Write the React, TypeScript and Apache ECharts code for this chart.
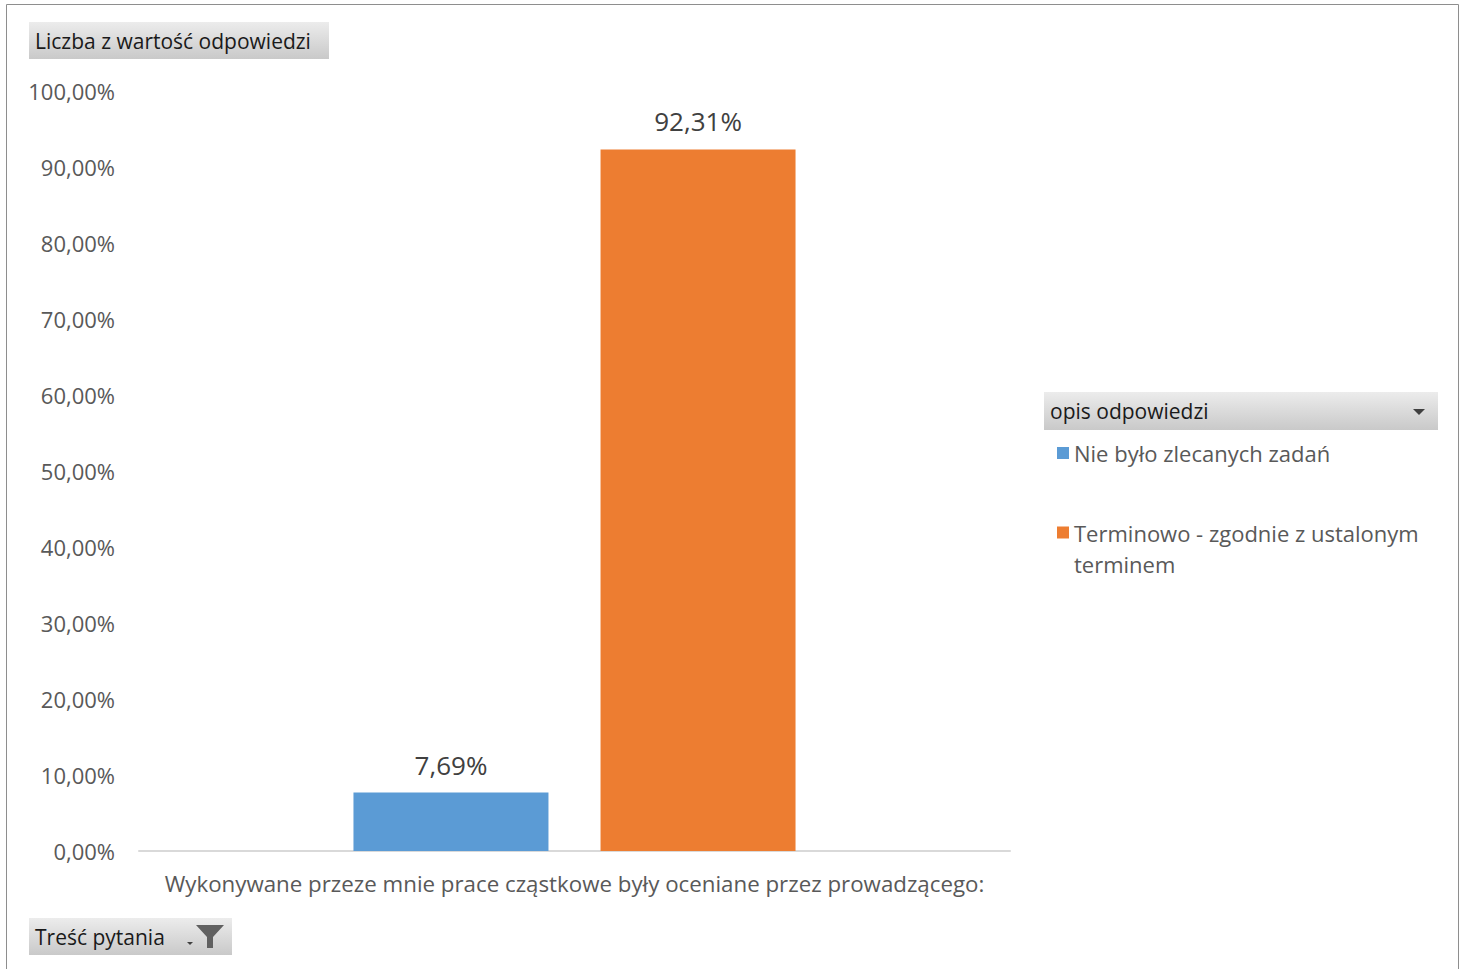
import React, { useEffect, useRef } from "react";
import * as echarts from "echarts";

const categories = ["Wykonywane przeze mnie prace cząstkowe były oceniane przez prowadzącego:"];
const seriesNames = ["Nie było zlecanych zadań", "Terminowo - zgodnie z ustalonym terminem"];
const seriesValues = [[7.69], [92.31]];
const seriesColors = ["#5B9BD5", "#ED7D31"];
const yTicks = { min: 0, max: 100, interval: 10 };

const FONT = "Open Sans";

function fmt(v: number) {
  return v.toFixed(2).replace(".", ",") + "%";
}

function headerBox(x: number, y: number, w: number, h: number, label: string, extra: any[] = []) {
  return {
    type: "group",
    x,
    y,
    children: [
      {
        type: "rect",
        shape: { x: 0, y: 0, width: w, height: h },
        style: {
          fill: new echarts.graphic.LinearGradient(0, 0, 0, 1, [
            { offset: 0, color: "#ececec" },
            { offset: 1, color: "#c9c9c9" },
          ]),
        },
      },
      {
        type: "text",
        x: 6,
        y: h / 2,
        style: { text: label, font: `21px '${FONT}'`, fill: "#1a1a1a", verticalAlign: "middle" },
      },
      ...extra,
    ],
  };
}

export default function App() {
  const ref = useRef<HTMLDivElement>(null);
  useEffect(() => {
    if (!ref.current) return;
    const chart = echarts.init(ref.current, undefined, { renderer: "svg" });
    const option: any = {
      animation: false,
      backgroundColor: "#ffffff",
      textStyle: { fontFamily: FONT },
      grid: { left: 139, right: 455, top: 91, bottom: 118, containLabel: false },
      xAxis: {
        type: "category",
        data: categories,
        axisLine: { lineStyle: { color: "#d9d9d9", width: 2 } },
        axisTick: { show: false },
        axisLabel: { color: "#595959", fontSize: 22.3, margin: 21, fontFamily: FONT },
      },
      yAxis: {
        type: "value",
        min: yTicks.min,
        max: yTicks.max,
        interval: yTicks.interval,
        splitLine: { show: false },
        axisLine: { show: false },
        axisTick: { show: false },
        axisLabel: {
          color: "#595959",
          fontSize: 22,
          margin: 24,
          fontFamily: FONT,
          formatter: (v: number) => fmt(v),
        },
      },
      legend: [
        {
          orient: "vertical",
          left: 1057,
          top: 442,
          itemWidth: 12,
          itemHeight: 12,
          icon: "rect",
          data: [seriesNames[0]],
          textStyle: { color: "#595959", fontSize: 22, fontFamily: FONT },
          itemGap: 0,
          padding: 0,
        },
        {
          orient: "vertical",
          left: 1057,
          top: 486,
          itemWidth: 12,
          itemHeight: 12,
          icon: "rect",
          data: [seriesNames[1]],
          formatter: (n: string) => "\n" + n.replace("ustalonym ", "ustalonym\n"),
          textStyle: {
            color: "#595959",
            fontSize: 22,
            lineHeight: 31,
            fontFamily: FONT,
          },
          padding: 0,
        },
      ],
      graphic: [
        {
          type: "rect",
          shape: { x: 6.5, y: 4.5, width: 1452, height: 980 },
          style: { fill: "none", stroke: "#8e8e8e", lineWidth: 1 },
          silent: true,
        },
        headerBox(29, 22, 300, 37, "Liczba z wartość odpowiedzi"),
        headerBox(1044, 392, 394, 38, "opis odpowiedzi", [
          {
            type: "polygon",
            shape: { points: [[369, 17], [381, 17], [375, 23]] },
            style: { fill: "#404040" },
          },
        ]),
        headerBox(29, 918, 203, 37, "Treść pytania", [
          {
            type: "polygon",
            shape: { points: [[158, 24], [164, 24], [161, 27]] },
            style: { fill: "#404040" },
          },
          {
            type: "polygon",
            shape: {
              points: [[167, 7], [195, 7], [184, 19], [184, 30], [178, 30], [178, 19]],
            },
            style: { fill: "#606060" },
          },
        ]),
      ],
      series: seriesNames.map((name, i) => ({
        name,
        type: "bar",
        data: seriesValues[i],
        barWidth: 195,
        barGap: "26.7%",
        itemStyle: { color: seriesColors[i] },
        label: {
          show: true,
          position: "top",
          distance: 15,
          color: "#404040",
          fontSize: 26,
          fontFamily: FONT,
          formatter: (p: any) => fmt(p.value),
        },
      })),
    };
    chart.setOption(option);
    return () => chart.dispose();
  }, []);
  return (
    <div
      ref={ref}
      style={{ position: "fixed", left: 0, top: 0, width: 1465, height: 969, background: "#fff" }}
    />
  );
}
